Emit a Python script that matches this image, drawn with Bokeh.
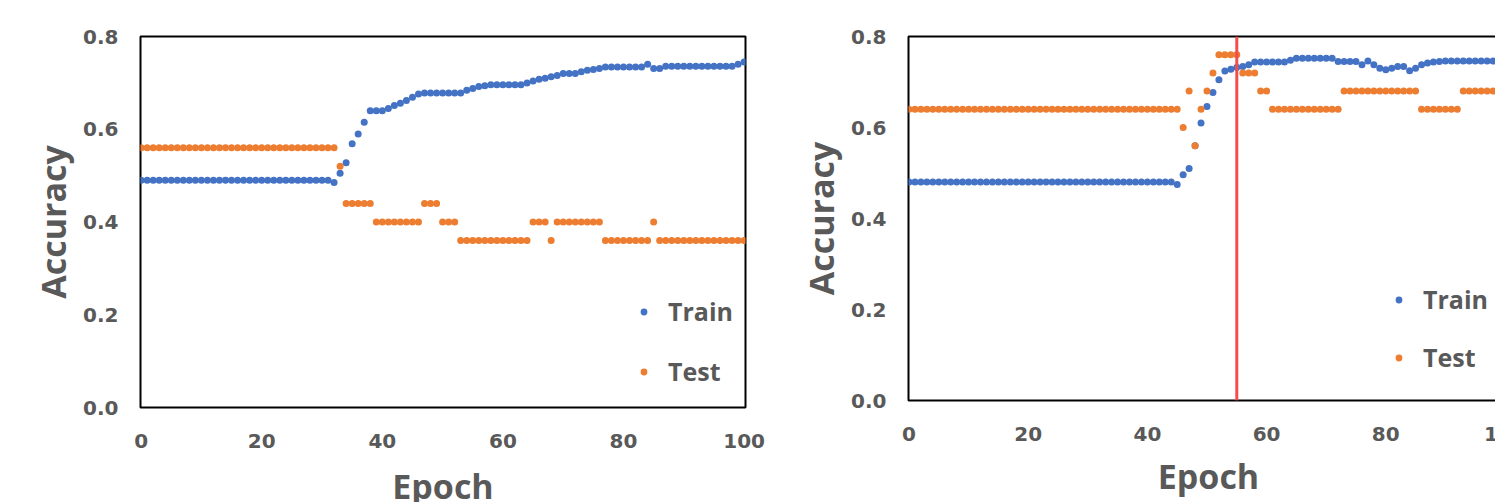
from bokeh.plotting import figure
from bokeh.layouts import row
from bokeh.models import (FixedTicker, Span, Legend, LegendItem,
                          NumeralTickFormatter, Range1d, ColumnDataSource)
from bokeh.embed import file_html
from bokeh.resources import INLINE

# ---------------- data ----------------
epochs = list(range(101))

left_train = [
    0.49, 0.49, 0.49, 0.49, 0.49, 0.49, 0.49, 0.49, 0.49, 0.49,
    0.49, 0.49, 0.49, 0.49, 0.49, 0.49, 0.49, 0.49, 0.49, 0.49,
    0.49, 0.49, 0.49, 0.49, 0.49, 0.49, 0.49, 0.49, 0.49, 0.49,
    0.49, 0.49, 0.485, 0.505, 0.528, 0.569, 0.59, 0.615, 0.64, 0.64,
    0.64, 0.645, 0.651, 0.656, 0.662, 0.669, 0.676, 0.678, 0.678, 0.678,
    0.678, 0.678, 0.678, 0.678, 0.684, 0.688, 0.692, 0.694, 0.696, 0.696,
    0.696, 0.696, 0.696, 0.696, 0.70, 0.704, 0.708, 0.71, 0.713, 0.716,
    0.72, 0.72, 0.72, 0.724, 0.727, 0.729, 0.731, 0.734, 0.734, 0.734,
    0.734, 0.734, 0.734, 0.734, 0.74, 0.731, 0.731, 0.736, 0.736, 0.736,
    0.736, 0.736, 0.736, 0.736, 0.736, 0.736, 0.736, 0.736, 0.736, 0.74,
    0.745,
]
left_test = [
    0.56, 0.56, 0.56, 0.56, 0.56, 0.56, 0.56, 0.56, 0.56, 0.56,
    0.56, 0.56, 0.56, 0.56, 0.56, 0.56, 0.56, 0.56, 0.56, 0.56,
    0.56, 0.56, 0.56, 0.56, 0.56, 0.56, 0.56, 0.56, 0.56, 0.56,
    0.56, 0.56, 0.56, 0.52, 0.44, 0.44, 0.44, 0.44, 0.44, 0.40,
    0.40, 0.40, 0.40, 0.40, 0.40, 0.40, 0.40, 0.44, 0.44, 0.44,
    0.40, 0.40, 0.40, 0.36, 0.36, 0.36, 0.36, 0.36, 0.36, 0.36,
    0.36, 0.36, 0.36, 0.36, 0.36, 0.40, 0.40, 0.40, 0.36, 0.40,
    0.40, 0.40, 0.40, 0.40, 0.40, 0.40, 0.40, 0.36, 0.36, 0.36,
    0.36, 0.36, 0.36, 0.36, 0.36, 0.40, 0.36, 0.36, 0.36, 0.36,
    0.36, 0.36, 0.36, 0.36, 0.36, 0.36, 0.36, 0.36, 0.36, 0.36,
    0.36,
]
right_train = [
    0.48, 0.48, 0.48, 0.48, 0.48, 0.48, 0.48, 0.48, 0.48, 0.48,
    0.48, 0.48, 0.48, 0.48, 0.48, 0.48, 0.48, 0.48, 0.48, 0.48,
    0.48, 0.48, 0.48, 0.48, 0.48, 0.48, 0.48, 0.48, 0.48, 0.48,
    0.48, 0.48, 0.48, 0.48, 0.48, 0.48, 0.48, 0.48, 0.48, 0.48,
    0.48, 0.48, 0.48, 0.48, 0.48, 0.475, 0.496, 0.51, 0.56, 0.61,
    0.646, 0.677, 0.705, 0.724, 0.728, 0.732, 0.734, 0.738, 0.744, 0.744,
    0.744, 0.744, 0.744, 0.744, 0.748, 0.752, 0.752, 0.752, 0.752, 0.752,
    0.752, 0.752, 0.745, 0.745, 0.745, 0.745, 0.738, 0.746, 0.738, 0.73,
    0.727, 0.73, 0.734, 0.734, 0.725, 0.73, 0.738, 0.742, 0.744, 0.745,
    0.746, 0.746, 0.746, 0.746, 0.746, 0.746, 0.746, 0.746, 0.746, 0.746,
    0.746,
]
right_test = [
    0.64, 0.64, 0.64, 0.64, 0.64, 0.64, 0.64, 0.64, 0.64, 0.64,
    0.64, 0.64, 0.64, 0.64, 0.64, 0.64, 0.64, 0.64, 0.64, 0.64,
    0.64, 0.64, 0.64, 0.64, 0.64, 0.64, 0.64, 0.64, 0.64, 0.64,
    0.64, 0.64, 0.64, 0.64, 0.64, 0.64, 0.64, 0.64, 0.64, 0.64,
    0.64, 0.64, 0.64, 0.64, 0.64, 0.64, 0.60, 0.68, 0.56, 0.64,
    0.68, 0.72, 0.76, 0.76, 0.76, 0.76, 0.72, 0.72, 0.72, 0.68,
    0.68, 0.64, 0.64, 0.64, 0.64, 0.64, 0.64, 0.64, 0.64, 0.64,
    0.64, 0.64, 0.64, 0.68, 0.68, 0.68, 0.68, 0.68, 0.68, 0.68,
    0.68, 0.68, 0.68, 0.68, 0.68, 0.68, 0.64, 0.64, 0.64, 0.64,
    0.64, 0.64, 0.64, 0.68, 0.68, 0.68, 0.68, 0.68, 0.68, 0.68,
    0.68,
]
best_epoch = 55

x_ticks = [0, 20, 40, 60, 80, 100]
y_ticks = [0.0, 0.2, 0.4, 0.6, 0.8]
series_names = ["Train", "Test"]
x_title = "Epoch"
y_title = "Accuracy"

# ---------------- styling ----------------
BLUE = "#4472C4"
ORANGE = "#ED7D31"
GRAY = "#595959"
FONT = "Open Sans"
TICK_FONT = "DejaVu Sans"


def make_panel(train, test, frame_w, frame_h, x_range, border_left, border_top,
               border_right, legend_loc, legend_spacing, xlabel_standoff):
    src = ColumnDataSource(dict(epoch=epochs, train=train, test=test))
    p = figure(frame_width=frame_w, frame_height=frame_h, output_backend="svg",
               toolbar_location=None, x_range=Range1d(*x_range),
               y_range=Range1d(0, 0.8), min_border_left=border_left,
               min_border_top=border_top, min_border_bottom=10,
               min_border_right=border_right)
    p.background_fill_color = "white"
    p.border_fill_color = "white"
    p.grid.visible = False
    p.outline_line_color = "black"
    p.outline_line_width = 2
    p.outline_line_alpha = 1

    r_train = p.scatter("epoch", "train", source=src, size=7,
                        fill_color=BLUE, line_color=None)
    r_test = p.scatter("epoch", "test", source=src, size=7,
                       fill_color=ORANGE, line_color=None)

    for ax in (p.xaxis[0], p.yaxis[0]):
        ax.axis_line_color = None
        ax.major_tick_line_color = None
        ax.minor_tick_line_color = None
        ax.major_tick_out = 0
        ax.major_tick_in = 0
        ax.major_label_text_font = TICK_FONT
        ax.major_label_text_font_style = "bold"
        ax.major_label_text_font_size = "20px"
        ax.major_label_text_color = GRAY
        ax.axis_label_text_font = FONT
        ax.axis_label_text_font_style = "bold"
        ax.axis_label_text_font_size = "34px"
        ax.axis_label_text_color = GRAY

    p.xaxis.ticker = FixedTicker(ticks=x_ticks)
    p.yaxis.ticker = FixedTicker(ticks=y_ticks)
    p.yaxis.formatter = NumeralTickFormatter(format="0.0")
    p.xaxis.major_label_standoff = 26
    p.yaxis.major_label_standoff = 22

    p.yaxis.axis_label = y_title
    p.yaxis.axis_label_standoff = 4
    p.xaxis.axis_label = x_title
    p.xaxis.axis_label_standoff = xlabel_standoff

    legend = Legend(items=[LegendItem(label=series_names[0], renderers=[r_train]),
                           LegendItem(label=series_names[1], renderers=[r_test])],
                    location=legend_loc, orientation="vertical",
                    glyph_width=17, glyph_height=17, label_standoff=16,
                    spacing=legend_spacing, padding=0, margin=0,
                    border_line_color=None, background_fill_alpha=0,
                    label_text_font=FONT, label_text_font_style="bold",
                    label_text_font_size="25px", label_text_color=GRAY)
    p.add_layout(legend)
    return p


left = make_panel(left_train, left_test, frame_w=605, frame_h=371,
                  x_range=(-0.1, 100.23), border_left=140, border_top=36,
                  border_right=45, legend_loc=(495, 19), legend_spacing=26,
                  xlabel_standoff=12)

# the right panel runs past the window's right edge, as in the reference
right = make_panel(right_train, right_test, frame_w=600, frame_h=364,
                   x_range=(-0.084, 100.59), border_left=118, border_top=35,
                   border_right=30, legend_loc=(482, 26), legend_spacing=24,
                   xlabel_standoff=9)
right.add_layout(Span(location=best_epoch, dimension="height",
                      line_color="#F24E4E", line_width=3))

layout = row(left, right)
open("out.html", "w").write(file_html(layout, INLINE))
